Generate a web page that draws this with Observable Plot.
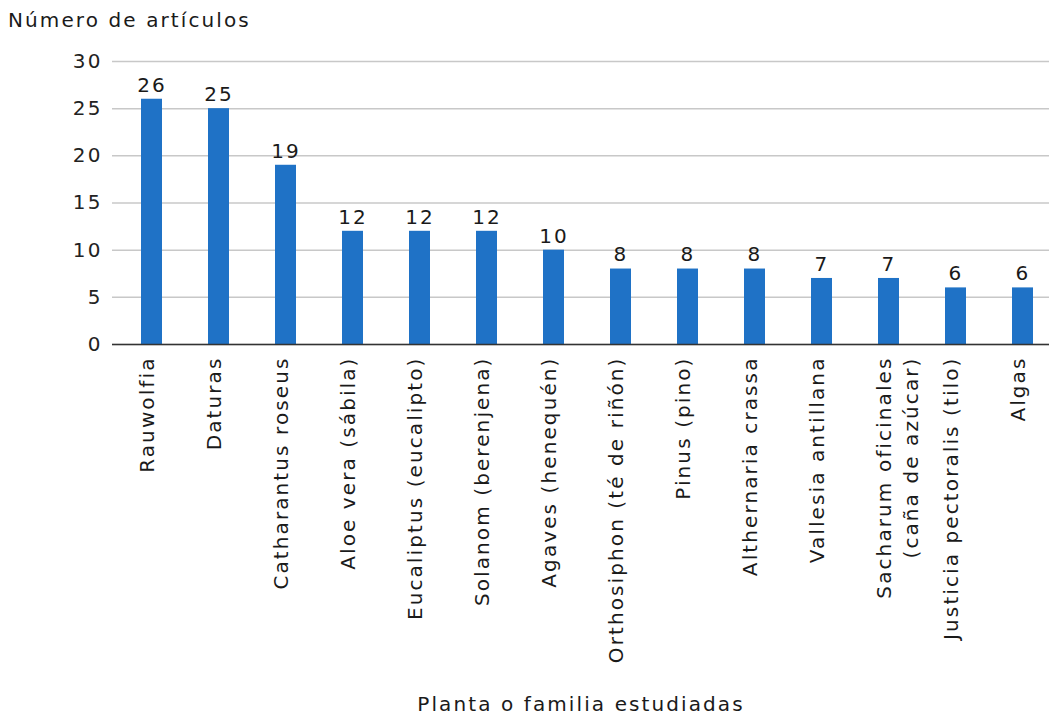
<!DOCTYPE html>
<html>
<head>
<meta charset="utf-8">
<script src="https://cdn.jsdelivr.net/npm/d3@7"></script>
<script src="https://cdn.jsdelivr.net/npm/@observablehq/plot@0.6"></script>
<style>
  html, body { margin: 0; padding: 0; background: #fff; }
  #title { font-family: "DejaVu Sans", sans-serif; font-size: 20px; letter-spacing: 2.1px; color: #1a1a1a; height: 40px; line-height: 40px; padding-left: 8px; box-sizing: border-box; }
  svg { display: block; }
</style>
</head>
<body>
<div id="title">Número de artículos</div>
<div id="chart"></div>
<script>
const categories = ["Rauwolfia","Daturas","Catharantus roseus","Aloe vera (sábila)","Eucaliptus (eucalipto)","Solanom (berenjena)","Agaves (henequén)","Orthosiphon (té de riñón)","Pinus (pino)","Althernaria crassa","Vallesia antillana","Sacharum oficinales\n(caña de azúcar)","Justicia pectoralis (tilo)","Algas"];
const values = [26,25,19,12,12,12,10,8,8,8,7,7,6,6];
const yTicks = [0,5,10,15,20,25,30];
const xTitle = "Planta o familia estudiadas";

const data = categories.map((c, i) => ({cat: c, value: values[i], line1: c.split("\n")[0], line2: c.split("\n")[1] || ""}));
const twoLine = data.filter(d => d.line2);

const chart = Plot.plot({
  width: 1049,
  height: 684,
  marginLeft: 112,
  marginRight: 0,
  marginTop: 21,
  marginBottom: 380,
  style: {fontFamily: "DejaVu Sans, sans-serif", fontSize: "20px", letterSpacing: "2.1px", color: "#1a1a1a", background: "#fff"},
  x: {domain: categories, range: [91.5, 1083], padding: 0.69, axis: null},
  y: {domain: [0, 30], axis: null},
  marks: [
    Plot.gridY(yTicks, {stroke: "#c8c8c8", strokeOpacity: 1, strokeWidth: 1.5}),
    Plot.barY(data, {x: "cat", y: "value", fill: "#1f72c6"}),
    Plot.axisY({ticks: yTicks, tickSize: 0, tickPadding: 10, label: null, line: true, stroke: "#333", strokeWidth: 1.5, fill: "#222"}),
    Plot.ruleY([0], {stroke: "#333", strokeWidth: 1.5}),
    Plot.text(data, {x: "cat", y: "value", text: d => String(d.value), dy: -14, fill: "#1a1a1a"}),
    Plot.text(data, {x: "cat", text: "line1", frameAnchor: "bottom", rotate: -90, textAnchor: "end", dy: 12, dx: 2, fill: "#1a1a1a"}),
    Plot.text(twoLine, {x: "cat", text: "line2", frameAnchor: "bottom", rotate: -90, textAnchor: "end", dy: 12, dx: 29, fill: "#1a1a1a"}),
    Plot.text([xTitle], {frameAnchor: "bottom", text: d => d, dy: 366, fill: "#1a1a1a"})
  ]
});
document.getElementById("chart").appendChild(chart);
</script>
</body>
</html>
